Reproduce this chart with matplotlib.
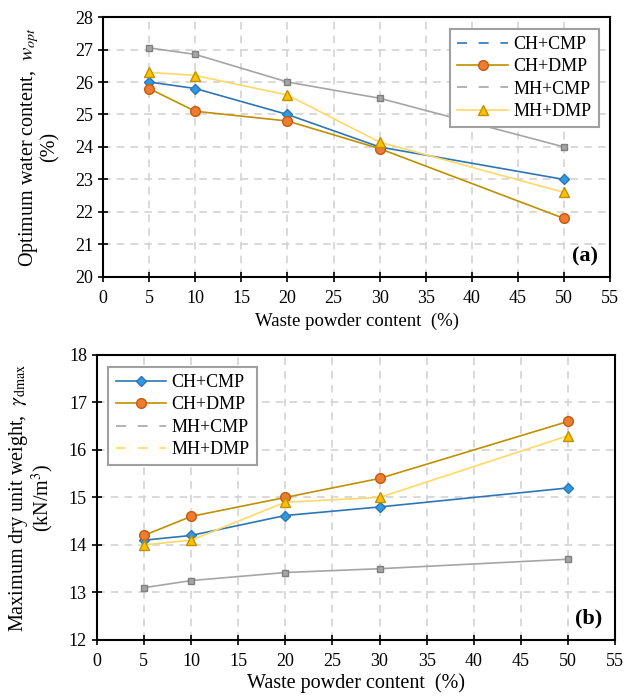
import matplotlib
matplotlib.use("Agg")
import matplotlib.pyplot as plt
from matplotlib.lines import Line2D

plt.rcParams['font.family'] = ['Liberation Serif', 'DejaVu Serif']
plt.rcParams['mathtext.fontset'] = 'stix'

content = [5, 10, 20, 30, 50]
series = ["CH+CMP", "CH+DMP", "MH+CMP", "MH+DMP"]

w_opt = {
    "CH+CMP": [26.0, 25.8, 25.0, 24.0, 23.0],
    "CH+DMP": [25.8, 25.1, 24.8, 23.95, 21.8],
    "MH+CMP": [27.05, 26.85, 26.0, 25.5, 24.0],
    "MH+DMP": [26.3, 26.2, 25.6, 24.15, 22.6],
}
gamma_dmax = {
    "CH+CMP": [14.1, 14.2, 14.62, 14.8, 15.2],
    "CH+DMP": [14.2, 14.6, 15.0, 15.4, 16.6],
    "MH+CMP": [13.1, 13.25, 13.42, 13.5, 13.7],
    "MH+DMP": [14.0, 14.1, 14.9, 15.0, 16.3],
}

styles = {
    "CH+CMP": dict(color="#2E75B6", marker="D", ms=5, mfc="#2E9BE0", mec="#2E75B6", lw=1.2),
    "CH+DMP": dict(color="#BF9000", marker="o", ms=7, mfc="#ED7D31", mec="#C55A11", lw=1.2),
    "MH+CMP": dict(color="#A5A5A5", marker="s", ms=5, mfc="#A5A5A5", mec="#7F7F7F", lw=1.2),
    "MH+DMP": dict(color="#FFD966", marker="^", ms=7.5, mfc="#FFC000", mec="#BF9000", lw=1.2),
}


def dashed_handle(name):
    return Line2D([], [], color=styles[name]["color"], lw=1.2, ls=(0, (6, 7)))


def marker_handle(name):
    return Line2D([], [], **styles[name])


fig = plt.figure(figsize=(6.24, 6.97), dpi=100)
ax1 = fig.add_axes([0.165, 0.6026, 0.813, 0.373])
ax2 = fig.add_axes([0.155, 0.0818, 0.831, 0.409])


def style_axis(ax, ylim, yticks):
    ax.set_xlim(0, 55)
    ax.set_xticks(range(0, 56, 5))
    ax.set_ylim(*ylim)
    ax.set_yticks(yticks)
    ax.grid(True, color="#D0D0D0", ls=(0, (5, 4)), lw=1.1)
    ax.set_axisbelow(True)
    ax.tick_params(axis="both", direction="inout", length=7, width=1.2, labelsize=13)
    ax.tick_params(axis="x", pad=6)
    for s in ax.spines.values():
        s.set_linewidth(1.5)


for name in series:
    ax1.plot(content, w_opt[name], **styles[name])
style_axis(ax1, (20, 28), range(20, 29))
ax1.set_xlabel("Waste powder content  (%)", fontsize=13.5, labelpad=4)
ax1.set_ylabel("Optimum water content,  $w_{opt}$\n(%)", fontsize=14.5, linespacing=1.0, labelpad=11)
ax1.text(0.975, 0.04, "(a)", transform=ax1.transAxes, ha="right", va="bottom",
         fontsize=16, fontweight="bold")
leg1 = ax1.legend([dashed_handle("CH+CMP"), marker_handle("CH+DMP"),
                   dashed_handle("MH+CMP"), marker_handle("MH+DMP")],
                  series, loc="upper right", fontsize=13, fancybox=False,
                  edgecolor="#A0A0A0", framealpha=1, handlelength=2.8,
                  borderpad=0.4, labelspacing=0.3, handletextpad=0.3,
                  bbox_to_anchor=(0.995, 0.99))
leg1.get_frame().set_linewidth(1.5)

for name in series:
    ax2.plot(content, gamma_dmax[name], **styles[name])
style_axis(ax2, (12, 18), range(12, 19))
ax2.set_xlabel("Waste powder content  (%)", fontsize=14.5, labelpad=2)
ax2.set_ylabel("Maximum dry unit weight,  $\\gamma_{\\rm dmax}$\n(kN/m$^3$)", fontsize=14.5,
               linespacing=1.0, labelpad=9)
ax2.text(0.975, 0.04, "(b)", transform=ax2.transAxes, ha="right", va="bottom",
         fontsize=16, fontweight="bold")
leg2 = ax2.legend([marker_handle("CH+CMP"), marker_handle("CH+DMP"),
                   dashed_handle("MH+CMP"), dashed_handle("MH+DMP")],
                  series, loc="upper left", fontsize=13, fancybox=False,
                  edgecolor="#A0A0A0", framealpha=1, handlelength=2.8,
                  borderpad=0.4, labelspacing=0.3, handletextpad=0.3,
                  bbox_to_anchor=(0.005, 0.99))
leg2.get_frame().set_linewidth(1.5)

fig.savefig("out.png", dpi=100)
